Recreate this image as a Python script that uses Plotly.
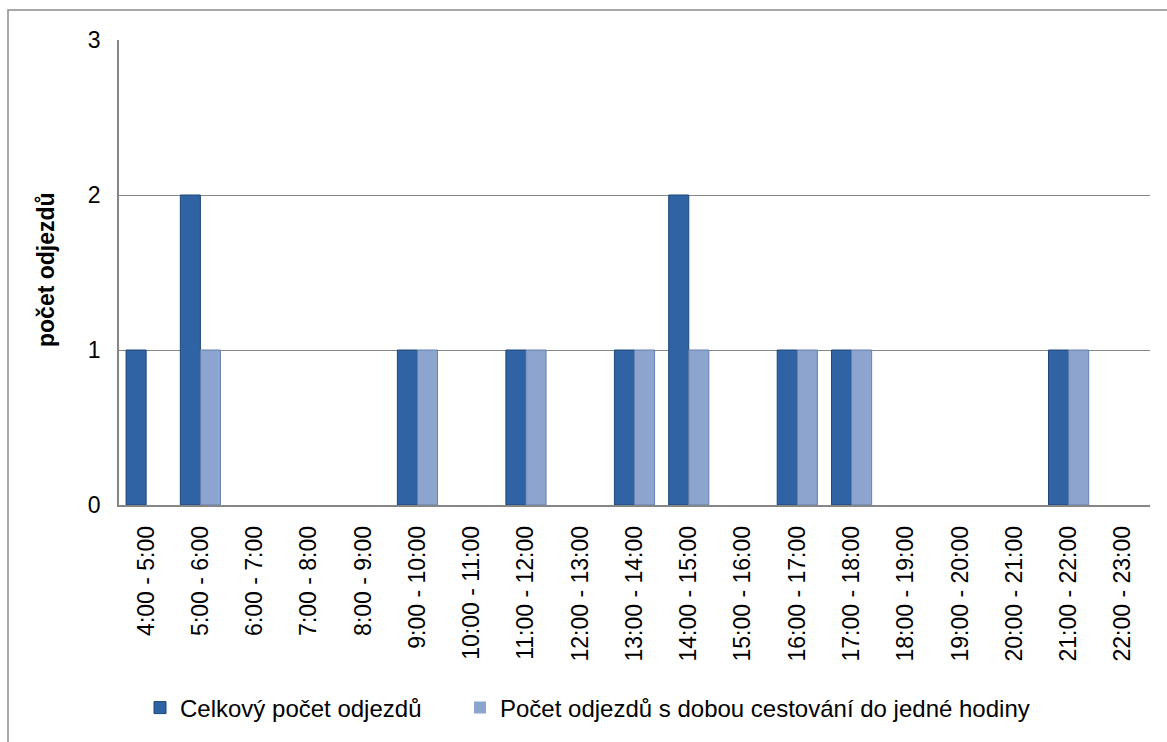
import plotly.graph_objects as go

# Hourly departure intervals
intervals = [
    "4:00 - 5:00", "5:00 - 6:00", "6:00 - 7:00", "7:00 - 8:00", "8:00 - 9:00",
    "9:00 - 10:00", "10:00 - 11:00", "11:00 - 12:00", "12:00 - 13:00",
    "13:00 - 14:00", "14:00 - 15:00", "15:00 - 16:00", "16:00 - 17:00",
    "17:00 - 18:00", "18:00 - 19:00", "19:00 - 20:00", "20:00 - 21:00",
    "21:00 - 22:00", "22:00 - 23:00",
]

# Total departures per interval
total_departures = [1, 2, 0, 0, 0, 1, 0, 1, 0, 1, 2, 0, 1, 1, 0, 0, 0, 1, 0]

# Departures with travel time up to one hour
short_departures = [0, 1, 0, 0, 0, 1, 0, 1, 0, 1, 1, 0, 1, 1, 0, 0, 0, 1, 0]

series_names = [
    "Celkový počet odjezdů",
    "Počet odjezdů s dobou cestování do jedné hodiny",
]
y_title = "počet odjezdů"
y_ticks = [0, 1, 2, 3]

FONT = "Liberation Sans, Arial, sans-serif"
W, H = 1167, 742
L, R, T, B = 119, 17, 40, 237
pw, ph = W - L - R, H - T - B


def px_x(x):
    return (x - L) / pw


def px_y(y):
    return (H - B - y) / ph


def edge_widths(values):
    # no outline on empty bars so they stay invisible
    return [1 if v > 0 else 0 for v in values]


fig = go.Figure()
fig.add_trace(go.Bar(
    x=intervals, y=total_departures, name=series_names[0], legend="legend",
    marker=dict(color="#2F63A3",
                line=dict(color="#1E4677", width=edge_widths(total_departures))),
))
fig.add_trace(go.Bar(
    x=intervals, y=short_departures, name=series_names[1], legend="legend2",
    marker=dict(color="#8CA4CE",
                line=dict(color="#6680AC", width=edge_widths(short_departures))),
))

legend_style = dict(
    orientation="h", xanchor="left", y=px_y(708), yanchor="middle",
    font=dict(size=24, family=FONT), itemwidth=30, bgcolor="rgba(0,0,0,0)",
)

fig.update_layout(
    width=W, height=H,
    margin=dict(l=L, r=R, t=T, b=B),
    paper_bgcolor="white", plot_bgcolor="white",
    barmode="group", bargap=0.26, bargroupgap=0,
    font=dict(family=FONT, color="black"),
    showlegend=True,
    legend=dict(x=px_x(140), **legend_style),
    legend2=dict(x=px_x(460), **legend_style),
    annotations=[dict(
        text="<b>" + y_title + "</b>", xref="paper", yref="paper",
        x=px_x(46), y=px_y(270), xanchor="center", yanchor="middle",
        textangle=-90, showarrow=False, font=dict(size=23, family=FONT),
    )],
    shapes=[dict(
        type="rect", xref="paper", yref="paper",
        x0=px_x(8), x1=px_x(1172), y0=px_y(748), y1=px_y(10),
        line=dict(color="#8C8C8C", width=1.5), fillcolor="rgba(0,0,0,0)",
        layer="below",
    )],
)

fig.update_xaxes(
    tickangle=-90, tickfont=dict(size=23, family=FONT),
    showline=True, linecolor="#868686", linewidth=1.5,
    ticks="", showgrid=False, ticklabelstandoff=10,
)
fig.update_yaxes(
    range=[0, 3], tickvals=y_ticks, tickfont=dict(size=23, family=FONT),
    showline=True, linecolor="#868686", linewidth=1.5,
    showgrid=True, gridcolor="#868686", gridwidth=1.2,
    ticks="", zeroline=False, ticklabelstandoff=12,
)

fig.write_html("out.html")
